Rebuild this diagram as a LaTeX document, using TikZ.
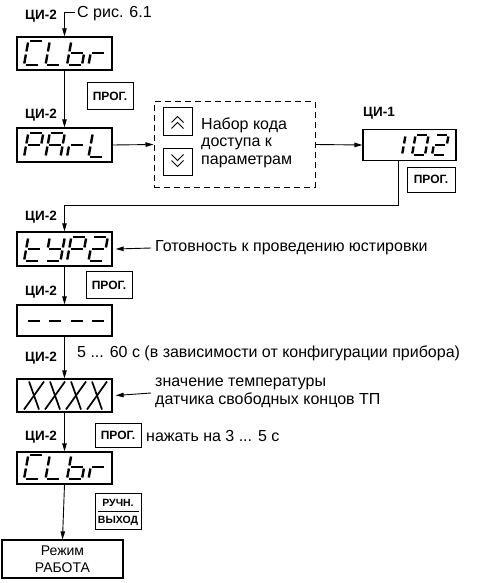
\documentclass[tikz,border=0pt]{standalone}
\usepackage{fontspec}
\setmainfont{Liberation Sans}
\usetikzlibrary{arrows.meta}
\def\sW{15}\def\sH{24}\def\sg{1.5}
\pgfkeys{/sseg/.cd,
 a/.code={\draw[segline] (\sg,-\sH) -- (\sW-\sg,-\sH);},
 b/.code={\draw[segline] (\sW,-\sH+\sg) -- (\sW,-\sH/2-\sg);},
 c/.code={\draw[segline] (\sW,-\sH/2+\sg) -- (\sW,-\sg);},
 d/.code={\draw[segline] (\sg,0) -- (\sW-\sg,0);},
 e/.code={\draw[segline] (0,-\sg) -- (0,-\sH/2+\sg);},
 f/.code={\draw[segline] (0,-\sH/2-\sg) -- (0,-\sH+\sg);},
 g/.code={\draw[segline] (\sg,-\sH/2) -- (\sW-\sg,-\sH/2);},
 x/.code={\draw[xline] (0,0) -- (\sW,-\sH); \draw[xline] (0,-\sH) -- (\sW,0);}
}
\newcommand\segdigit[3]{%
 \begin{scope}[shift={(#1,#2)},xslant=0.18]
 \foreach \s in {#3}{\pgfkeys{/sseg/\s}}
 \end{scope}}
\begin{document}
\begin{tikzpicture}[x=1pt,y=-1pt,
 segline/.style={line width=2.4pt},
 xline/.style={line width=1.7pt},
 disp/.style={draw, line width=1.3pt, minimum width=95pt, minimum height=33pt, inner sep=0pt},
 btn/.style={draw, line width=1pt, minimum width=46pt, minimum height=27pt, inner sep=0pt, font=\bfseries\fontsize{12}{13}\selectfont},
 txt/.style={inner sep=0pt, font=\fontsize{16}{18}\selectfont},
 lbl/.style={inner sep=0pt, anchor=east, font=\bfseries\fontsize{13.5}{14}\selectfont},
 arr/.style={line width=0.9pt, -{Triangle[length=8pt,width=4.5pt]}},
 chev/.style={line width=0.9pt}]
\useasboundingbox (0,0) rectangle (477,583);

% display boxes
\node[disp] (clbr1) at (64.5,53.5) {};
\node[disp, minimum height=34pt] (parl) at (64.5,145) {};
\node[disp, minimum width=93pt, minimum height=31pt] (d102) at (409.5,145) {};
\node[disp, minimum height=34pt] (typ2) at (64.5,249) {};
\node[disp, minimum height=31pt] (dash) at (64.5,320.5) {};
\node[disp] (xxxx) at (64.5,395.5) {};
\node[disp, minimum height=32pt] (clbr2) at (64.5,468) {};
\node[draw, line width=1.3pt, minimum width=121pt, minimum height=38pt, inner sep=0pt, align=center, font=\fontsize{14}{16.5}\selectfont] (rezhim) at (62.5,559) {Режим\\РАБОТА};

% digits
\segdigit{24}{65}{a,f,e,d}\segdigit{45.5}{65}{f,e,d}\segdigit{67}{65}{f,e,d,c,g}\segdigit{88.5}{65}{e,g}
\segdigit{24}{157}{a,b,f,g,e}\segdigit{45.5}{157}{a,b,c,e,f,g}\segdigit{67}{157}{e,g}\segdigit{88.5}{157}{f,e,d}
\segdigit{24}{261}{f,e,d,g}\segdigit{45.5}{261}{f,b,g,c,d}\segdigit{67}{261}{a,b,f,g,e}\segdigit{88.5}{261}{a,b,g,e,d}
\segdigit{24}{333}{g}\segdigit{45.5}{333}{g}\segdigit{67}{333}{g}\segdigit{88.5}{333}{g}
\segdigit{24}{479}{a,f,e,d}\segdigit{45.5}{479}{f,e,d}\segdigit{67}{479}{f,e,d,c,g}\segdigit{88.5}{479}{e,g}
\begingroup\def\sW{13}\def\sH{20}
\segdigit{389}{155}{b,c}\segdigit{412}{155}{a,b,c,d,e,f}\segdigit{432}{155}{a,b,g,e,d}
\endgroup
\begingroup\def\sW{15}\def\sH{28}
\segdigit{24}{409.5}{x}\segdigit{45}{409.5}{x}\segdigit{66}{409.5}{x}\segdigit{87}{409.5}{x}
\endgroup

% buttons
\node[btn] (prog1) at (110,96.5) {ПРОГ.};
\node[btn, minimum height=25pt, minimum width=48pt] (prog2) at (431,179.5) {ПРОГ.};
\node[btn] (prog3) at (109,285) {ПРОГ.};
\node[btn, minimum height=24pt] (prog4) at (118,435.5) {ПРОГ.};
\node[btn, minimum height=36pt] (ruchn) at (118,511.5) {};
\node[inner sep=0pt, font=\bfseries\fontsize{10.5}{12}\selectfont] (ruchnt) at (118,503) {РУЧН.};
\node[inner sep=0pt, font=\bfseries\fontsize{10.5}{12}\selectfont] (vyhod) at (118,520.5) {ВЫХОД};
\draw[line width=0.8pt] ([xshift=3pt]ruchn.west) -- ([xshift=-3pt]ruchn.east);

% dashed code box
\node[draw, dashed, dash pattern=on 6pt off 4pt, line width=1pt, minimum width=161pt, minimum height=85pt, inner sep=0pt] (codebox) at (234.5,144.5) {};
\node[draw, line width=1pt, minimum width=29pt, minimum height=27pt, inner sep=0pt] (up) at (177.5,121.5) {};
\node[draw, line width=1pt, minimum width=29pt, minimum height=27pt, inner sep=0pt] (down) at (177.5,161.5) {};
\begin{scope}[shift={(up.center)}]
\draw[chev] (-6,1) -- (0,-5) -- (6,1);
\draw[chev] (-6,7) -- (0,1) -- (6,7);
\end{scope}
\begin{scope}[shift={(down.center)}]
\draw[chev] (-6,-7) -- (0,-1) -- (6,-7);
\draw[chev] (-6,-1) -- (0,5) -- (6,-1);
\end{scope}
\node[txt, anchor=west] (nab1) at (201,125) {Набор кода};
\node[txt, anchor=west] (nab2) at (201,143.5) {доступа к};
\node[txt, anchor=west] (nab3) at (201,162) {параметрам};

% labels
\node[lbl] (l1) at (57,16) {ЦИ-2};
\node[lbl] (l2) at (57,115) {ЦИ-2};
\node[lbl, anchor=west] (l3) at (363,113) {ЦИ-1};
\node[lbl] (l4) at (57,217) {ЦИ-2};
\node[lbl] (l5) at (57,292) {ЦИ-2};
\node[lbl] (l6) at (57,358) {ЦИ-2};
\node[lbl] (l7) at (57,437) {ЦИ-2};

% texts
\node[txt, anchor=west] (src) at (77,14) {С рис. 6.1};
\node[txt, anchor=west] (gotov) at (155,248) {Готовность к проведению юстировки};
\node[txt, anchor=west] (sec) at (77,353) {5 ... 60 с (в зависимости от конфигурации прибора)};
\node[txt, anchor=west, align=left] (znach) at (155,393) {значение температуры\\датчика свободных концов ТП};
\node[txt, anchor=west] (nazh) at (146,436) {нажать на 3 ... 5 с};

% connectors
\coordinate (st) at (75,12);
\draw[arr] (st) -| (clbr1.north);
\draw[arr] (clbr1.south) -- (parl.north);
\draw[arr] (parl.east) -- (codebox.west);
\draw[arr] (codebox.east) -- (d102.west);
\coordinate (turn) at (398,205);
\draw[arr] (d102.south -| turn) -- (turn) -- (turn -| typ2.north) -- (typ2.north);
\draw[arr] ([xshift=-4pt]gotov.west) -- ([xshift=3pt]typ2.east);
\draw[arr] (typ2.south) -- (dash.north);
\draw[arr] (dash.south) -- (xxxx.north);
\draw[arr] ([xshift=-4pt]znach.west) -- ([xshift=3pt]xxxx.east);
\draw[arr] (xxxx.south) -- (clbr2.north);
\draw[arr] (clbr2.south) -- (rezhim.north);
\end{tikzpicture}
\end{document}
